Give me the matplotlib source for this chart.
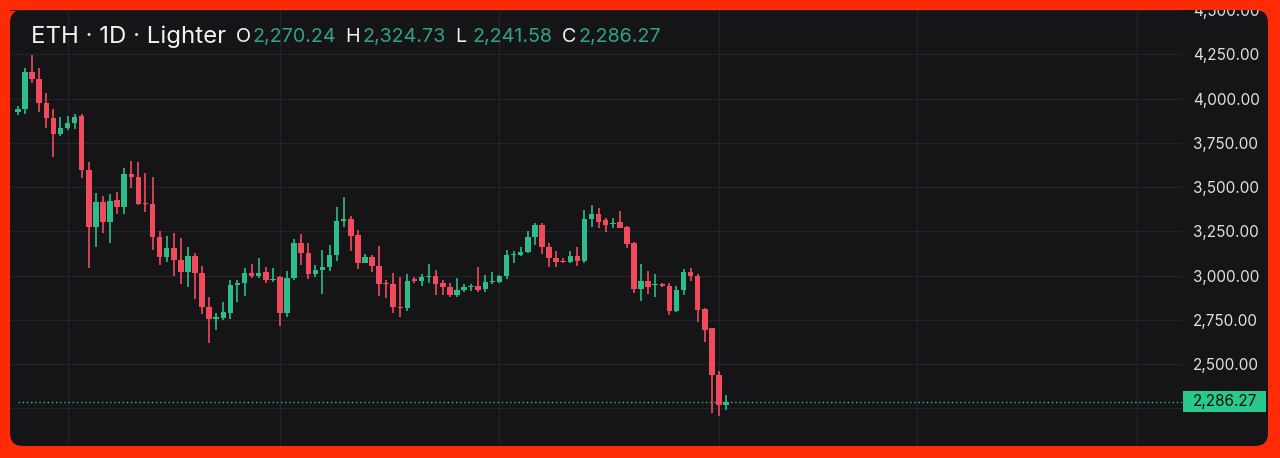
import numpy as np
import pandas as pd
import matplotlib
matplotlib.use("Agg")
import matplotlib.pyplot as plt
import matplotlib.dates as mdates
import matplotlib.transforms as mtransforms
from matplotlib.patches import FancyBboxPatch, Rectangle

# daily ETH candles, Lighter
dates = pd.date_range("2025-10-25", periods=101, freq="D")
opens = [3925, 3942, 4150, 4112, 3972, 3890, 3797, 3836, 3862, 3900,
         3595, 3275, 3413, 3300, 3425, 3388, 3573, 3554, 3410, 3403,
         3220, 3105, 3157, 3087, 3021, 3110, 3012, 2820, 2752, 2760,
         2790, 2946, 2955, 3015, 3000, 3021, 2975, 2990, 2786, 2984,
         3181, 3125, 3010, 3030, 3046, 3115, 3310, 3317, 3228, 3072,
         3102, 3053, 2960, 2952, 2825, 2818, 2980, 2967, 2993, 3000,
         2956, 2937, 2890, 2918, 2935, 2940, 2922, 2965, 2966, 2995,
         3115, 3118, 3134, 3215, 3285, 3160, 3097, 3083, 3078, 3110,
         3080, 3319, 3350, 3313, 3290, 3300, 3275, 3181, 2924, 2969,
         2945, 2950, 2942, 2800, 2918, 3020, 2999, 2810, 2702, 2440,
         2270.24]
highs = [3956, 4170, 4245, 4170, 4030, 3938, 3896, 3900, 3911, 3911,
         3642, 3469, 3450, 3460, 3473, 3610, 3648, 3642, 3580, 3557,
         3251, 3223, 3243, 3213, 3162, 3125, 3053, 2880, 2790, 2848,
         2974, 2975, 3040, 3063, 3097, 3046, 3040, 2997, 3027, 3204,
         3233, 3185, 3059, 3144, 3172, 3388, 3444, 3336, 3256, 3121,
         3115, 3166, 2974, 3015, 2990, 3006, 2990, 3006, 3065, 3031,
         2974, 2956, 2984, 2952, 2952, 3046, 3002, 3021, 3002, 3144,
         3140, 3159, 3253, 3298, 3298, 3181, 3140, 3097, 3140, 3162,
         3373, 3398, 3379, 3323, 3323, 3364, 3281, 3190, 3063, 3025,
         3006, 2957, 2956, 2942, 3036, 3044, 3010, 2818, 2705, 2460,
         2324.73]
lows = [3906, 3915, 4088, 3925, 3836, 3667, 3787, 3821, 3830, 3552,
        3040, 3159, 3238, 3185, 3347, 3350, 3497, 3398, 3360, 3144,
        3059, 3078, 2997, 2952, 2937, 2865, 2782, 2617, 2692, 2748,
        2752, 2852, 2884, 2984, 2984, 2956, 2965, 2714, 2767, 2974,
        3059, 2978, 2993, 2898, 3027, 3082, 3275, 3140, 3035, 3068,
        3021, 2884, 2871, 2786, 2764, 2801, 2956, 2940, 2956, 2890,
        2890, 2876, 2880, 2908, 2914, 2908, 2908, 2952, 2956, 2978,
        3068, 3110, 3125, 3172, 3121, 3046, 3046, 3068, 3072, 3053,
        3072, 3275, 3266, 3247, 3270, 3266, 3157, 2900, 2856, 2893,
        2880, 2937, 2777, 2795, 2890, 2969, 2739, 2626, 2222, 2208,
        2241.58]
closes = [3942, 4150, 4112, 3972, 3890, 3797, 3836, 3862, 3896, 3595,
          3275, 3413, 3300, 3422, 3388, 3573, 3554, 3403, 3403, 3219,
          3102, 3157, 3087, 3021, 3110, 3012, 2820, 2752, 2767, 2792,
          2946, 2955, 3015, 2997, 3015, 2975, 2980, 2786, 2984, 3181,
          3125, 3010, 3030, 3050, 3115, 3310, 3318, 3223, 3072, 3102,
          3053, 2952, 2952, 2820, 2818, 2969, 2967, 2993, 3000, 2952,
          2935, 2890, 2918, 2937, 2940, 2920, 2965, 2968, 2997, 3115,
          3123, 3134, 3215, 3285, 3160, 3097, 3078, 3078, 3110, 3080,
          3317, 3345, 3303, 3285, 3298, 3270, 3176, 2924, 2969, 2937,
          2950, 2942, 2800, 2918, 3018, 2995, 2805, 2692, 2438, 2270.24,
          2286.27]
yticks = [2250, 2500, 2750, 3000, 3250, 3500, 3750, 4000, 4250, 4500]

UP = "#2dbd8a"
DOWN = "#f04a5c"
BG = "#151518"
GRID = "#242428"
FRAME = "#ff2b06"

plt.rcParams["font.family"] = ["Inter", "DejaVu Sans"]

W, H = 1280, 458
fig = plt.figure(figsize=(W / 100, H / 100), dpi=100)
fig.patch.set_facecolor(FRAME)

panel = FancyBboxPatch((10 / 100, 12 / 100), 1258 / 100, 436 / 100,
                       boxstyle="round,pad=0,rounding_size=0.13",
                       transform=fig.dpi_scale_trans, fc=BG, ec="none", zorder=0)
fig.add_artist(panel)

ax = fig.add_axes([10 / W, 12 / H, 1172 / W, 436 / H])
ax.set_facecolor("none")
for s in ax.spines.values():
    s.set_visible(False)

o = np.array(opens)
c = np.array(closes)
h = np.array(highs)
l = np.array(lows)
x = mdates.date2num(dates)
up = c >= o
colors = np.where(up, UP, DOWN)

ax.vlines(x, l, h, colors=colors, lw=1.2, zorder=3)
body_lo = np.minimum(o, c)
body_h = np.maximum(np.abs(c - o), 6)
ax.bar(x, body_h, bottom=body_lo, width=0.78, color=colors, zorder=4, linewidth=0)

x0 = x[0]
ax.set_xlim(x0 - 1.13, x0 + 164.4)
ax.set_ylim(2037, 4500)

ax.xaxis.set_major_locator(mdates.MonthLocator())
ax.tick_params(axis="x", length=0, labelbottom=False)
ax.yaxis.tick_right()
ax.set_yticks(yticks)
ax.set_yticklabels([f"{v:,.2f}" if v >= 2500 else "" for v in yticks])
ax.tick_params(axis="y", length=0, pad=8, labelsize=11, labelcolor="#e0e0e0")
ax.grid(True, color=GRID, lw=0.9)
ax.set_axisbelow(True)

# last price line and label
last = closes[-1]
ax.hlines(last, x0, x0 + 164.4, colors=UP, linestyles=(0, (1, 2)), lw=1, zorder=2)
blend = mtransforms.blended_transform_factory(fig.transFigure, ax.transData)
fig.add_artist(Rectangle((1183 / W, last - 60), 83 / W, 120, transform=blend,
                         fc="#27c98c", ec="none", zorder=5))
fig.text(1193 / W, last, f"{last:,.2f}", transform=blend, ha="left", va="center",
         fontsize=11, color="#0e0e10", zorder=6)

# top strip of the red frame hides the half-cut 4,500 label
fig.add_artist(Rectangle((0, 1 - 10 / H), 1, 10 / H, transform=fig.transFigure,
                         fc=FRAME, ec="none", zorder=10))

# header
def px(xp, yp):
    return xp / W, 1 - yp / H

fig.text(*px(31, 43), "ETH · 1D · Lighter", fontsize=17.3, color="#f2f2f2", va="baseline")
vals = [("O", opens[-1], 236), ("H", highs[-1], 345), ("L", lows[-1], 455), ("C", closes[-1], 562)]
for lab, v, xp in vals:
    fig.text(*px(xp, 42), lab, fontsize=14.2, color="#f2f2f2", va="baseline")
    fig.text(*px(xp + 17, 42), f"{v:,.2f}", fontsize=14.2, color="#2fa383", va="baseline")

fig.savefig("out.png", dpi=100, facecolor=FRAME)
